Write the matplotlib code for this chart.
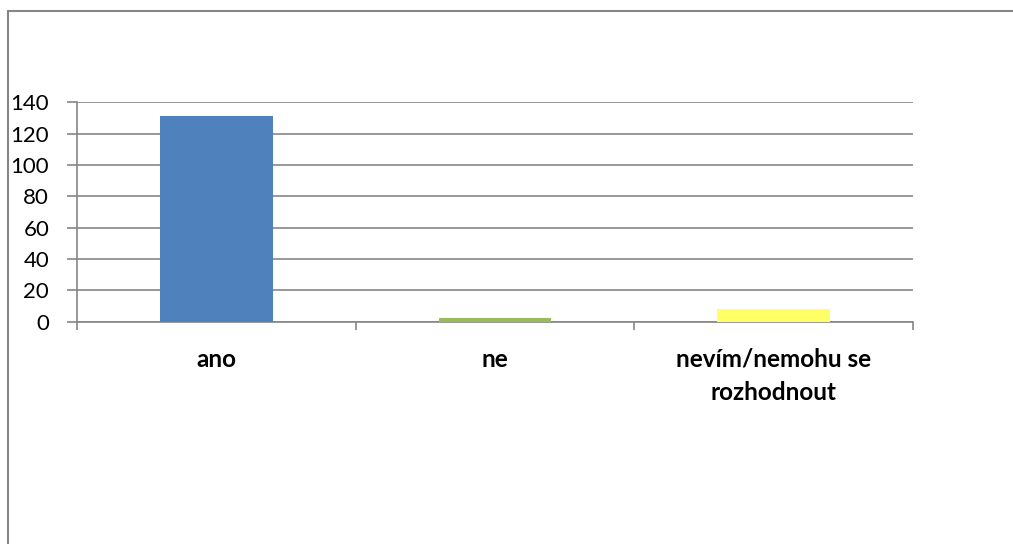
import matplotlib.pyplot as plt
from matplotlib.patches import Rectangle
import numpy as np

categories = ["ano", "ne", "nevím/nemohu se\nrozhodnout"]
values = [131, 2, 8]
colors = ["#4f81bd", "#9bbb59", "#ffff66"]
yticks = [0, 20, 40, 60, 80, 100, 120, 140]

plt.rcParams["font.family"] = ["Lato", "DejaVu Sans"]
grey = "#868686"

fig = plt.figure(figsize=(10.13, 5.44), dpi=100)
ax = fig.add_axes([77 / 1013, 1 - 321.5 / 544, (913 - 77) / 1013, (321.5 - 102.3) / 544])

x = np.arange(len(categories))
ax.bar(x, values, width=0.405, color=colors, zorder=3)

ax.set_xlim(-0.5, len(categories) - 0.5)
ax.set_ylim(0, 140)
ax.set_yticks(yticks)
ax.yaxis.grid(True, color=grey, linewidth=1.2, zorder=0)

# category boundaries get the tick marks, the labels sit in the middle
ax.set_xticks(np.arange(len(categories) + 1) - 0.5)
ax.set_xticklabels([])
ax.set_xticks(x, minor=True)
ax.set_xticklabels(categories, minor=True, fontweight="bold", fontsize=17.5, linespacing=1.55)
ax.tick_params(axis="x", which="minor", length=0, pad=19)
ax.tick_params(axis="x", which="major", length=6, width=1.2, color=grey)
ax.tick_params(axis="y", length=7, width=1.2, color=grey, labelsize=16, pad=13)

for side in ["top", "right"]:
    ax.spines[side].set_visible(False)
for side in ["left", "bottom"]:
    ax.spines[side].set_color(grey)
    ax.spines[side].set_linewidth(1.2)

# outer chart frame, runs off the right and bottom edges
fig.patches.append(Rectangle((8 / 1013, -0.2), 1.2, 1.2 - 11 / 544,
                             transform=fig.transFigure, fill=False,
                             edgecolor=grey, linewidth=1.5))

fig.savefig("out.png", dpi=100)
